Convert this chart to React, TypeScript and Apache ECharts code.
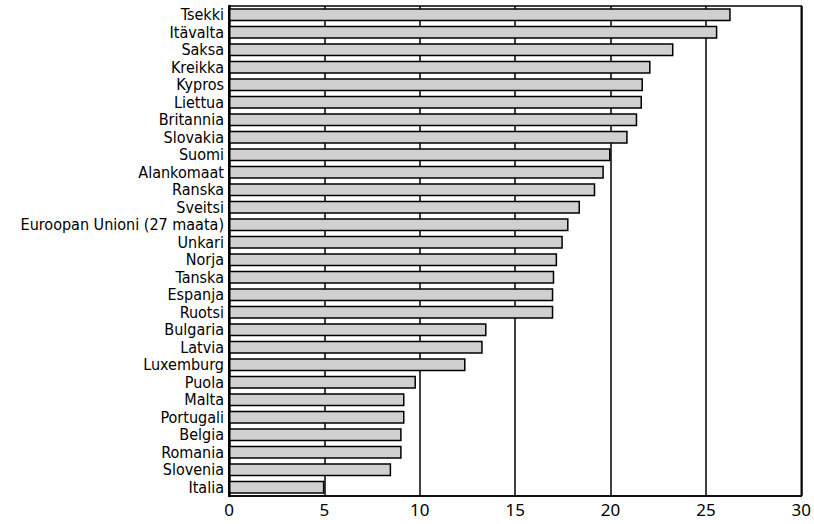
import React, { useEffect, useRef } from "react";
import * as echarts from "echarts";

const categories = [
  "Tsekki", "Itävalta", "Saksa", "Kreikka", "Kypros", "Liettua", "Britannia",
  "Slovakia", "Suomi", "Alankomaat", "Ranska", "Sveitsi",
  "Euroopan Unioni (27 maata)", "Unkari", "Norja", "Tanska", "Espanja", "Ruotsi",
  "Bulgaria", "Latvia", "Luxemburg", "Puola", "Malta", "Portugali", "Belgia",
  "Romania", "Slovenia", "Italia",
];

const values = [
  26.3, 25.6, 23.3, 22.1, 21.7, 21.65, 21.4, 20.9, 20.0, 19.65, 19.2, 18.4,
  17.8, 17.5, 17.2, 17.05, 17.0, 17.0, 13.5, 13.3, 12.4, 9.8, 9.2, 9.2, 9.05,
  9.05, 8.5, 5.0,
];

const xTicks = [0, 5, 10, 15, 20, 25, 30];

export default function App() {
  const ref = useRef<HTMLDivElement>(null);
  useEffect(() => {
    document.body.style.margin = "0";
    const chart = echarts.init(ref.current!, null, { renderer: "svg" });
    chart.setOption({
      animation: false,
      backgroundColor: "#ffffff",
      grid: {
        left: 229,
        right: 11,
        top: 6,
        bottom: 28,
        show: true,
        borderColor: "#000",
        borderWidth: 1.5,
      },
      xAxis: {
        type: "value",
        min: xTicks[0],
        max: xTicks[xTicks.length - 1],
        interval: 5,
        axisLine: { show: true, lineStyle: { color: "#000", width: 1.5 } },
        axisTick: { show: false },
        axisLabel: {
          color: "#000",
          fontFamily: "Noto Sans",
          fontSize: 17,
          margin: 5,
        },
        splitLine: { show: true, lineStyle: { color: "#000", width: 1.5 } },
      },
      yAxis: {
        type: "category",
        data: categories,
        inverse: true,
        axisLine: { show: true, lineStyle: { color: "#000", width: 2.5 } },
        axisTick: { show: false },
        axisLabel: {
          interval: 0,
          color: "#000",
          fontFamily: "DejaVu Sans Condensed",
          fontSize: 16,
          lineHeight: 16,
          margin: 5,
        },
      },
      series: [
        {
          type: "bar",
          data: values,
          barWidth: 13,
          itemStyle: {
            color: "#d0d0d0",
            borderColor: "#000",
            borderWidth: 1.5,
          },
        },
      ],
    });
    return () => chart.dispose();
  }, []);
  return <div ref={ref} style={{ width: 814, height: 524 }} />;
}
